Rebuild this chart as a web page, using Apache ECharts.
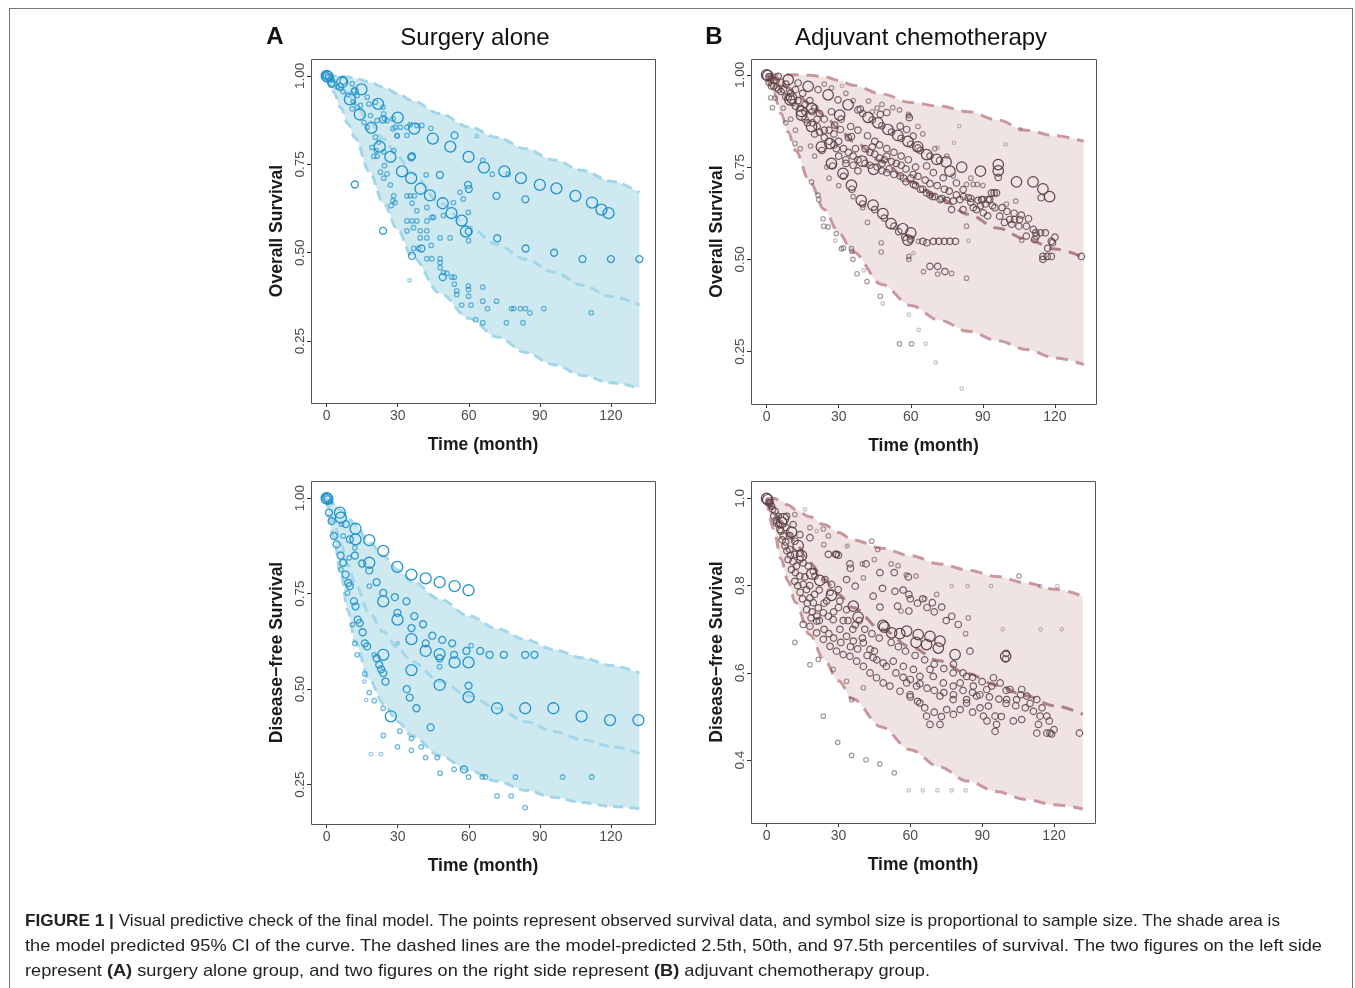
<!DOCTYPE html>
<html><head><meta charset="utf-8">
<script src="https://cdn.jsdelivr.net/npm/echarts@6/dist/echarts.min.js"></script>
<style>
html,body{margin:0;padding:0;background:#fff;}
#wrap{position:relative;width:1355px;height:988px;overflow:hidden;background:#fff;}
#chart{position:absolute;left:0;top:0;width:1355px;height:988px;}
#frame{position:absolute;left:9px;top:8px;width:1344px;height:1010px;border:1px solid #777;box-sizing:border-box;pointer-events:none;}
.cap{position:absolute;left:25px;white-space:nowrap;font-family:"Liberation Sans Narrow","Liberation Sans",Arial,sans-serif;font-size:17px;color:#231f20;transform-origin:0 50%;line-height:20px;}
</style></head>
<body><div id="wrap"><div id="chart"></div><div id="frame"></div>
<div class="cap" data-w="1255" style="top:911px"><b>FIGURE 1 |</b> Visual predictive check of the final model. The points represent observed survival data, and symbol size is proportional to sample size. The shade area is</div>
<div class="cap" data-w="1297" style="top:936px">the model predicted 95% CI of the curve. The dashed lines are the model-predicted 2.5th, 50th, and 97.5th percentiles of survival. The two figures on the left side</div>
<div class="cap" data-w="905" style="top:961px">represent <b>(A)</b> surgery alone group, and two figures on the right side represent <b>(B)</b> adjuvant chemotherapy group.</div>
</div>
<script>
// ---------------- DATA ----------------
const tGrid = [0,3,6,9,12,18,24,30,36,48,60,72,84,96,108,120,132];
const xTicks = [0,30,60,90,120];
const osYTicks = [0.25,0.5,0.75,1.0];
const dfsSurgYTicks = [0.25,0.5,0.75,1.0];
const dfsChemoYTicks = [0.4,0.6,0.8,1.0];

// Overall survival, surgery alone (97.5th / 50th / 2.5th percentiles)
const osSurgUpper  = [1.0,1.0,0.999,0.997,0.993,0.983,0.968,0.95,0.93,0.893,0.856,0.826,0.794,0.762,0.733,0.702,0.67];
const osSurgMedian = [1.0,0.985,0.965,0.945,0.922,0.872,0.822,0.772,0.725,0.64,0.573,0.523,0.481,0.445,0.408,0.376,0.352];
const osSurgLower  = [1.0,0.955,0.91,0.865,0.825,0.73,0.64,0.565,0.49,0.385,0.315,0.262,0.218,0.183,0.153,0.132,0.117];

// Overall survival, adjuvant chemotherapy
const osChemoUpper  = [1.0,1.0,1.0,1.0,1.0,0.999,0.995,0.985,0.972,0.948,0.925,0.915,0.9,0.878,0.85,0.835,0.82];
const osChemoMedian = [1.0,0.99,0.978,0.965,0.95,0.922,0.89,0.855,0.82,0.765,0.71,0.665,0.622,0.585,0.555,0.528,0.505];
const osChemoLower  = [1.0,0.95,0.895,0.845,0.795,0.71,0.635,0.572,0.52,0.432,0.375,0.335,0.305,0.28,0.256,0.233,0.215];

// Disease-free survival, surgery alone
const dfsSurgUpper  = [1.0,0.985,0.968,0.95,0.93,0.885,0.848,0.812,0.782,0.735,0.692,0.658,0.63,0.603,0.582,0.562,0.542];
const dfsSurgMedian = [1.0,0.94,0.88,0.825,0.775,0.7,0.65,0.607,0.572,0.52,0.483,0.45,0.415,0.389,0.368,0.35,0.332];
const dfsSurgLower  = [1.0,0.9,0.8,0.705,0.625,0.525,0.462,0.415,0.378,0.325,0.287,0.259,0.235,0.217,0.203,0.193,0.187];

// Disease-free survival, adjuvant chemotherapy
const dfsChemoUpper  = [1.0,1.0,0.995,0.985,0.975,0.958,0.94,0.922,0.905,0.886,0.869,0.85,0.836,0.821,0.807,0.792,0.776];
const dfsChemoMedian = [1.0,0.975,0.948,0.922,0.897,0.853,0.814,0.78,0.75,0.7,0.66,0.628,0.598,0.572,0.548,0.525,0.505];
const dfsChemoLower  = [1.0,0.93,0.862,0.81,0.762,0.688,0.63,0.582,0.54,0.476,0.424,0.385,0.352,0.328,0.31,0.298,0.288];

// observed points: [time (month), survival, sample-size class 1..4]
const osSurgPts = [
[0,1,4],[0.4,0.998,4],[0,1,3],[0.8,0.996,3],[0.2,0.999,2],
[2.1,0.981,3],[2,0.978,3],[7,0.986,3],[5.6,0.969,3],[6.6,0.983,4],[9.8,0.934,4],[14.7,0.962,4],[11.9,0.957,3],[14,0.891,4],[21.7,0.921,4],[18.9,0.853,4],[30,0.882,4],[22.4,0.80,4],[26.9,0.771,4],[37,0.851,4],[31.8,0.73,4],[35.7,0.711,4],[39.6,0.681,4],[43.6,0.662,4],[49,0.64,4],[52.7,0.612,4],[57,0.591,4],[58.8,0.56,4],[44.8,0.823,4],[52.2,0.80,4],[59.9,0.771,4],[66.4,0.741,4],[75,0.73,4],[82,0.711,4],[90,0.692,4],[97,0.682,4],[105,0.661,4],[112,0.642,4],[116,0.622,4],[119,0.612,4],
[23.8,0.877,3],[29.8,0.83,2],[35.7,0.77,3],[42,0.72,2],[47.8,0.72,3],[59.7,0.692,3],[36.1,0.64,2],[11.9,0.693,3],[23.8,0.562,3],[36,0.773,3],[54,0.832,3],[60,0.68,3],[71.7,0.661,3],[83.9,0.651,3],[72,0.541,3],[84,0.512,3],[96,0.50,3],[108,0.482,3],[120,0.482,3],[132,0.482,3],[36,0.491,3],[40,0.512,3],[49,0.431,3],[60,0.56,3],
[2.4,0.988,2],[4.5,0.969,2],[6.9,0.956,2],[9,0.947,2],[10.8,0.978,2],[11.5,0.959,2],[12.9,0.945,2],[11.2,0.926,2],[10.8,0.907,2],[12.9,0.912,2],[14.3,0.917,2],[17.1,0.94,2],[17.8,0.921,2],[20.6,0.926,2],[23.8,0.912,2],[24.1,0.893,2],[24.4,0.879,2],[21.3,0.874,2],[18.5,0.888,2],[15.7,0.869,2],[17.1,0.855,2],[20.6,0.827,2],[22,0.813,2],[25.5,0.874,2],[28,0.879,2],[29,0.855,2],[31.1,0.855,2],[33.9,0.855,2],[35.3,0.862,2],[38.1,0.86,2],[40.2,0.86,2],[44,0.852,2],[33.9,0.832,2],[29.7,0.832,2],[28,0.851,2],[19.2,0.798,2],[21,0.789,2],[24.1,0.786,2],[28.3,0.789,2],[19.9,0.773,2],[21.3,0.773,2],[24.4,0.746,2],[25.5,0.723,2],[22.7,0.728,2],[24.1,0.711,2],[26.9,0.692,2],[28.3,0.661,2],[28,0.647,2],[29,0.642,2],[27.2,0.633,2],[33.9,0.661,2],[35.3,0.661,2],[37,0.661,2],[38.1,0.619,2],[42.3,0.628,2],[45.1,0.6,2],[49.3,0.605,2],[53.5,0.642,2],[57.7,0.652,2],[33.9,0.59,2],[36,0.59,2],[38.1,0.59,2],[42.3,0.59,2],[44.4,0.6,2],[33.9,0.562,2],[36.7,0.571,2],[39.5,0.562,2],[42.3,0.562,2],[39.5,0.542,2],[42.3,0.542,2],[47.9,0.542,2],[52.1,0.542,2],[36.7,0.512,2],[38.8,0.512,2],[42.3,0.483,2],[44.4,0.483,2],[47.9,0.483,2],[47.9,0.472,2],[47.9,0.458,2],[49.3,0.444,2],[50.7,0.442,2],[52.8,0.431,2],[53.9,0.431,2],[53.9,0.411,2],[54.9,0.392,2],[54.9,0.382,2],[57,0.352,2],[59.8,0.406,2],[59.9,0.396,2],[59.9,0.377,2],[60.9,0.352,2],[65.9,0.403,2],[65.9,0.363,2],[67.9,0.342,2],[71.7,0.363,2],[78,0.342,2],[79,0.342,2],[81.8,0.342,2],[83.9,0.342,2],[85.8,0.33,2],[91.7,0.342,2],[111.7,0.33,2],[65.9,0.302,2],[75.9,0.302,2],[82.9,0.302,2],[62.9,0.311,2],[35,0.422,1],[56.3,0.671,2],[59.8,0.614,2],[59.9,0.534,2],[63.4,0.83,1],[65.9,0.761,2],[69.9,0.722,2],[76.6,0.722,2],[44.1,0.521,2]
];

const osChemoPts = [
[0,1,4],[0.5,0.998,4],[1,0.995,3],[2,0.99,3],[3,0.985,3],
[4.8,0.996,3],[9,0.987,4],[13.1,0.978,3],[17.3,0.969,4],[21.4,0.96,3],[25.6,0.946,4],[29.7,0.932,3],[33.9,0.919,4],[38,0.905,3],[42.2,0.885,4],[46.3,0.87,4],[50.5,0.852,4],[54.6,0.836,4],[58.8,0.82,4],[62.9,0.805,4],[66.6,0.784,4],[70.8,0.771,4],[74.7,0.764,4],[76.3,0.739,4],[81.2,0.75,4],[89,0.739,4],[96.4,0.757,4],[96.4,0.74,4],[96.4,0.722,3],[104,0.71,4],[110.9,0.71,4],[115,0.691,4],[117.8,0.67,4],[114.3,0.667,3],
[40,0.895,3],[44,0.878,3],[48,0.862,3],[52,0.845,3],[56,0.828,3],[60,0.812,3],[64,0.795,3],[68,0.78,3],[72,0.768,3],
[9.7,0.932,4],[10.4,0.937,4],[14.5,0.901,4],[14.5,0.891,4],[18.7,0.86,4],[18.7,0.91,4],[22.8,0.805,4],[23,0.795,3],[26.3,0.814,4],[27,0.76,4],[27.5,0.753,3],[30.4,0.891,4],[31.8,0.733,4],[32,0.725,3],[35.3,0.701,4],[35.5,0.69,3],[39.4,0.66,4],[40,0.65,3],[44.3,0.647,4],[45,0.635,3],[48.4,0.624,4],[49,0.612,3],[51.8,0.597,4],[53,0.59,3],[56.7,0.583,4],[55,0.575,3],[57.5,0.56,3],[58.8,0.552,4],[60,0.572,4],[60,0.555,3],
[28.3,0.864,3],[35.3,0.833,3],[30.7,0.852,3],[34,0.83,3],[37,0.8,3],[39.7,0.766,4],[44.5,0.744,4],[48,0.74,3],[50,0.735,3],[53,0.73,3],[55.6,0.726,3],[58,0.71,3],[61.1,0.703,3],[64,0.69,3],[66.6,0.68,3],[69,0.67,3],[72.2,0.662,3],[75,0.66,3],[77.7,0.658,3],[80.5,0.662,3],[83.9,0.667,3],[86,0.64,3],[89.5,0.662,3],[92.2,0.662,3],[93.6,0.68,3],[95.7,0.68,3],[95,0.64,3],[97,0.617,3],[77,0.635,3],[81.8,0.635,3],[87.3,0.635,3],[90.2,0.626,3],[92,0.618,3],[101.2,0.608,3],[103.2,0.608,3],[105.3,0.608,3],[108.1,0.59,3],[111,0.581,3],[112,0.572,3],[114,0.572,3],[116,0.572,3],[112.3,0.563,3],[108.1,0.563,3],[111.6,0.554,3],[106.2,0.552,2],[118.5,0.549,3],[115,0.508,3],[116.8,0.508,3],[118.5,0.508,3],[115,0.5,3],[131,0.508,3],
[26,0.85,3],[28,0.84,3],[30,0.82,3],[32,0.8,3],[34,0.79,3],[36,0.78,3],[38,0.77,3],[41,0.76,3],[43,0.755,3],[46,0.75,3],[48,0.76,3],[51,0.745,3],[57,0.72,3],[60,0.72,3],[62,0.7,3],[65,0.69,3],[68,0.675,3],[70,0.67,3],[73,0.665,3],[27,0.9,3],[31,0.88,3],[35,0.86,3],[38,0.85,3],[42,0.835,3],[45,0.82,3],[47,0.81,3],[50,0.8,3],[53,0.79,3],[56,0.78,3],[59,0.77,3],[62,0.75,3],[20,0.91,3],[22,0.895,3],[24,0.88,3],[18,0.93,3],[15,0.95,3],[12,0.96,3],[8,0.975,3],[6,0.98,3],[10,0.95,3],[13,0.93,3],[16,0.92,3],[19,0.9,3],[21,0.88,3],[24,0.85,3],[20,0.84,3],[17,0.87,3],[8,0.94,3],[5,0.96,3],[3,0.97,3],[4,0.985,3],
[41,0.8,3],[43,0.79,3],[45,0.785,3],[47,0.775,3],[49,0.77,3],[52,0.765,3],[54,0.76,3],[56,0.755,3],[58,0.745,3],[44,0.805,3],[50,0.78,3],[61,0.73,3],[63,0.725,3],[66,0.715,3],[68,0.705,3],[71,0.7,3],[74,0.69,3],[76,0.685,3],[79,0.675,3],[82,0.67,3],[85,0.665,3],[88,0.66,3],[91,0.65,3],[94,0.645,3],[98,0.64,3],[100,0.63,3],[103,0.625,3],[106,0.62,3],[109,0.61,3],[85,0.655,3],[89,0.645,3],[99,0.6,3],[102,0.595,3],[105,0.59,3],[120,0.56,3],[119,0.545,3],[117,0.53,3],
[1,0.98,3],[2,0.97,3],[4,0.965,3],[6,0.955,3],[7,0.96,3],[9,0.94,3],[11,0.925,3],[12,0.915,3],[14,0.91,3],[16,0.9,3],[16,0.88,3],[19,0.87,3],[21,0.86,3],[22,0.845,3],[24,0.83,3],[26,0.82,3],[28,0.81,3],[29,0.8,3],[30,0.78,3],[33,0.77,3],[36,0.755,3],[38,0.74,3],[33,0.76,3],
[44,0.9,2],[46,0.91,2],[36,0.93,2],[33,0.95,2],[24,0.975,2],[27,0.965,2],[48,0.92,2],[63,0.86,2],[65,0.84,2],[70,0.8,2],[75,0.78,2],[85,0.72,2],[90,0.7,2],
[39,0.907,3],[42.4,0.929,2],[47.3,0.893,3],[50,0.898,3],[52.5,0.911,2],[55.3,0.905,2],[59,0.893,2],[59.4,0.884,3],[59.3,0.889,2],[55.6,0.861,3],[58.3,0.852,3],[61,0.834,3],[63,0.802,3],[66.6,0.753,3],[69.4,0.735,3],[73.5,0.721,3],[77.7,0.726,2],[79,0.707,3],[81.8,0.689,3],[83.2,0.703,2],[86,0.703,2],[87.7,0.703,2],[90.1,0.662,3],[92.9,0.662,3],[94.7,0.68,3],[103.7,0.658,2],[99.8,0.65,2],
[31.4,0.97,1],[80.2,0.861,1],[78,0.816,1],[99.5,0.812,1],[105.6,0.852,1],[71.2,0.803,1],
[1.7,0.938,2],[2.4,0.911,2],[6.9,0.91,2],[3.5,0.937,2],[10,0.88,2],[11.8,0.814,2],[18.3,0.807,2],[18.7,0.71,2],[21.4,0.674,2],[21.7,0.662,2],[23.5,0.61,2],[23.8,0.59,2],[25.6,0.588,2],[29,0.57,2],[28.6,0.551,1],[31.1,0.529,2],[35.3,0.529,2],[32,0.531,2],[35.5,0.522,2],[35.9,0.5,2],[37.6,0.461,2],[40.4,0.47,1],[41.8,0.44,2],[47.3,0.4,2],[48.4,0.38,1],[59.2,0.35,1],[63.3,0.309,1],[55.3,0.271,2],[60.3,0.271,2],[66.2,0.271,1],[70.4,0.22,1],[81.2,0.15,1],[47.7,0.52,2],[47.7,0.545,2],[59.2,0.508,2],[59.2,0.5,2],[61.1,0.517,1],[65.3,0.467,2],[68,0.481,3],[71.2,0.481,3],[74.2,0.467,3],[71.2,0.46,2],[77,0.462,2],[83.2,0.449,2],[63.2,0.549,2],[65,0.549,3],[66.7,0.545,3],[69.4,0.549,3],[71.7,0.549,3],[74,0.549,3],[76.3,0.549,3],[78.6,0.549,3],[59.7,0.549,2],[83.2,0.59,2],[84,0.55,1],[40,0.64,2],[42,0.6,2],[36,0.67,2],[30,0.7,2],[26,0.72,2],[25,0.75,2],[20,0.78,2],[14,0.8,2],[12,0.85,2],[8,0.87,2]
];

const dfsSurgPts = [
[0,1,4],[0.3,0.998,4],[0,1,3],[0.5,0.997,3],
[1.7,0.991,2],[1,0.962,3],[2.1,0.94,3],[3.1,0.901,3],[4.2,0.879,3],[5.6,0.962,4],[6,0.949,4],[6.3,0.932,2],[8.1,0.932,3],[7,0.901,2],[5.9,0.85,3],[7,0.831,3],[6,0.813,2],[8,0.80,3],[9.1,0.778,3],[9.8,0.77,3],[8.8,0.752,2],[9.5,0.844,2],[12.2,0.92,4],[12.2,0.892,4],[9.8,0.892,3],[11.9,0.85,3],[11.9,0.87,2],[11.5,0.73,3],[12.2,0.717,3],[10.9,0.669,2],[13.1,0.682,3],[14,0.673,3],[15.2,0.649,3],[11.9,0.62,2],[16.1,0.62,3],[17.1,0.612,3],[12.9,0.59,2],[15,0.829,3],[18,0.89,4],[18,0.831,4],[18,0.811,3],[18,0.77,2],[21.1,0.78,3],[20.1,0.59,2],[21.1,0.581,3],[22.2,0.564,3],[23,0.552,3],[23.9,0.542,3],[24.8,0.52,3],[23.9,0.59,4],[23.9,0.862,4],[23.9,0.752,3],[23.9,0.73,4],[16.1,0.54,2],[18,0.491,2],[20.1,0.47,2],[23.9,0.45,2],[27.1,0.429,4],[23.9,0.379,2],[30.9,0.39,2],[29.9,0.349,2],[35.8,0.371,2],[35.8,0.34,2],[39.9,0.349,2],[41.8,0.321,2],[46.7,0.321,2],[18.7,0.33,1],[22.9,0.33,1],[15.9,0.52,1],[16.7,0.472,1],[28.8,0.741,3],[29.9,0.70,3],[29.9,0.682,4],[29.9,0.62,1],[33.7,0.73,3],[35.8,0.66,3],[37,0.691,3],[35.8,0.631,4],[35.8,0.55,4],[40.7,0.67,3],[41.8,0.62,3],[41.8,0.60,4],[44.6,0.64,3],[47.7,0.592,4],[47.7,0.581,3],[48.8,0.629,3],[53,0.62,3],[53.8,0.59,3],[54,0.57,4],[59,0.60,3],[59.9,0.57,4],[61,0.614,2],[64.8,0.60,3],[68.8,0.59,3],[74.8,0.59,3],[83.8,0.59,3],[87.7,0.59,3],[33.8,0.50,3],[35.1,0.478,3],[37.9,0.45,3],[43.9,0.40,3],[47.7,0.511,4],[59.9,0.509,3],[59.9,0.479,4],[71.9,0.45,4],[83.8,0.45,4],[95.7,0.45,4],[107.6,0.429,4],[119.6,0.419,4],[131.6,0.419,4],[29.8,0.82,4],[35.8,0.80,4],[41.8,0.79,4],[47.7,0.78,4],[54,0.77,4],[59.9,0.759,4],[47.7,0.559,2],[53.8,0.29,2],[58,0.29,3],[59.9,0.27,2],[65.7,0.27,2],[67,0.27,2],[47.9,0.28,2],[71.9,0.22,2],[77.9,0.22,2],[79.7,0.27,2],[83.8,0.19,2],[99.6,0.27,2],[111.9,0.27,2]
];

const dfsChemoPts = [
[0,1,4],[0.5,0.997,4],[1.5,0.99,3],[7,0.953,4],[6.3,0.945,4],[10.4,0.923,4],[9.7,0.915,3],[13.2,0.892,4],[14.6,0.869,4],[13.9,0.875,3],[18.8,0.827,4],[19.5,0.833,3],[22.2,0.812,4],[27.1,0.778,4],[26.5,0.785,3],[36.2,0.753,4],[38.2,0.728,4],[38.7,0.72,3],[48.6,0.709,4],[49.2,0.705,4],[52.2,0.692,4],[55.6,0.69,4],[58.5,0.696,4],[62.4,0.67,4],[63.3,0.688,4],[66.8,0.665,4],[68.2,0.684,4],[71.7,0.657,4],[72.4,0.673,4],[78.7,0.642,4],[99.8,0.638,4],[99.8,0.632,3],[100,0.645,3],
[2.1,0.982,3],[3.5,0.971,3],[4.9,0.959,3],[4.2,0.944,3],[5.6,0.929,3],[7,0.914,3],[7.7,0.891,3],[9,0.86,3],[10.4,0.837,3],[11.8,0.81,3],[9.7,0.883,3],[11.8,0.872,3],[12.5,0.845,3],[13.9,0.822,3],[15.3,0.803,3],[16.7,0.791,3],[18.1,0.772,3],[19.5,0.761,3],[21.6,0.749,3],[23.7,0.738,3],[25.8,0.73,3],[16.7,0.745,3],[18.6,0.726,3],[20.9,0.719,3],[15.3,0.852,3],[17.4,0.845,3],[20.2,0.822,3],[24.4,0.814,3],[27.1,0.803,3],[29.9,0.791,3],[30.6,0.765,3],[33.4,0.745,3],[25.1,0.765,3],[13.9,0.86,3],[11.8,0.902,3],[11.1,0.94,3],[18.1,0.933,2],[23.7,0.93,2],[25.8,0.914,2],[29.2,0.872,3],[13.9,0.917,3],[8.4,0.959,3],[11.8,0.963,2],[8.1,0.933,3],[18.1,0.91,3],[25.8,0.872,3],[28.8,0.872,3],[34.8,0.85,3],[41.5,0.85,3],[47.3,0.83,3],[53.3,0.83,3],[59.2,0.82,3],[33.4,0.814,3],[37,0.799,3],[48.4,0.794,3],[53.6,0.787,3],[59.4,0.78,3],[65.2,0.77,3],[69.2,0.761,3],[73.1,0.751,3],[47.3,0.751,3],[54.7,0.753,3],[59.4,0.742,3],[77.3,0.73,3],[80,0.711,3],[83.1,0.69,2],[84.9,0.65,3],[44.5,0.776,3],
[15.3,0.711,3],[18.1,0.707,3],[20.9,0.692,3],[23.7,0.677,3],[26.5,0.661,3],[29.2,0.65,3],[32,0.642,3],[34.8,0.638,3],[37.6,0.627,3],[40.4,0.615,3],[43.2,0.60,3],[45.9,0.589,3],[48.7,0.577,3],[51.5,0.57,3],[55.7,0.558,3],[59.9,0.55,3],[64,0.531,3],[66.8,0.501,3],[68.2,0.482,3],[72.4,0.482,3],[75.2,0.516,3],[80.8,0.516,3],[83.5,0.531,3],[89.1,0.52,3],[90.5,0.501,3],[95.4,0.501,3],[96,0.482,3],[95.4,0.466,3],[100.2,0.539,3],[106.5,0.562,3],[106.5,0.493,3],[111.4,0.512,3],[113.5,0.482,3],[114.2,0.501,3],[112.8,0.462,3],[117,0.462,3],[118.3,0.462,3],[130.6,0.462,3],[117,0.501,3],
[27.8,0.722,3],[30.6,0.70,3],[33.4,0.684,3],[36.2,0.673,3],[40.4,0.669,3],[43.2,0.654,3],[44.5,0.635,3],[48.7,0.623,3],[52.9,0.627,3],[57.1,0.615,3],[61.3,0.608,3],[64,0.592,3],[68.2,0.608,3],[69.6,0.592,3],[73.8,0.577,3],[77.9,0.60,3],[80.8,0.577,3],[83.5,0.592,3],[86.3,0.57,3],[91.9,0.562,3],[94.7,0.589,3],[97.5,0.577,3],[101.6,0.562,3],[104.4,0.539,3],[108.6,0.547,3],[112.8,0.539,3],[77.9,0.57,3],[58.5,0.577,3],[62.6,0.57,3],[72.4,0.547,3],[77.9,0.539,3],[83.5,0.539,3],[87.7,0.547,3],[92.6,0.524,3],
[1,0.99,3],[2.5,0.975,3],[3,0.96,3],[4,0.95,3],[5,0.94,3],[6,0.925,3],[6.5,0.905,3],[8,0.9,3],[8.5,0.88,3],[10,0.87,3],[11,0.855,3],[12,0.83,3],[13,0.8,3],[14,0.785,3],[15,0.77,3],[17,0.76,3],[19,0.74,3],[21,0.73,3],[22,0.72,3],[24,0.7,3],[26,0.69,3],[28,0.68,3],[31,0.67,3],[35,0.66,3],[38,0.655,3],[42,0.64,3],[46,0.63,3],[50,0.615,3],[54,0.6,3],[57,0.59,3],[60,0.585,3],[64,0.575,3],[67,0.565,3],[70,0.56,3],[74,0.555,3],[78,0.55,3],[82,0.56,3],[86,0.555,3],[89,0.55,3],[93,0.545,3],[97,0.54,3],[100,0.53,3],[104,0.525,3],[108,0.52,3],[110,0.53,3],[115,0.52,3],[118,0.49,3],[120,0.47,3],[119,0.46,3],[60,0.545,3],[63,0.535,3],[66,0.52,3],[70,0.51,3],[73,0.5,3],[78,0.505,3],[86,0.51,3],[92,0.49,3],[98,0.5,3],[103,0.49,3],
[45,0.65,3],[40,0.68,3],[36,0.7,3],[32,0.72,3],[28,0.74,3],[24,0.76,3],[20,0.78,3],[22,0.79,3],[18,0.8,3],[16,0.82,3],[30,0.75,3],[34,0.72,3],[37,0.71,3],[41,0.7,3],[44,0.69,3],[47,0.68,3],[52,0.67,3],[55,0.66,3],[58,0.65,3],[62,0.64,3],[66,0.63,3],[70,0.62,3],[74,0.61,3],[78,0.62,3],[82,0.6,3],[86,0.59,3],[90,0.58,3],[94,0.57,3],[100,0.56,3],[106,0.55,3],
[30,0.87,3],[35,0.84,3],[40,0.85,2],[45,0.86,2],[52,0.85,2],[57,0.79,3],[60,0.77,3],[63,0.76,3],[67,0.75,3],[70,0.74,3],[75,0.72,3],[66,0.77,2],[71,0.78,2],
[16,0.975,1],[20.9,0.925,1],[23.9,0.894,2],[33.4,0.89,1],[43.9,0.902,2],[46.4,0.883,2],[40.4,0.818,2],[56.1,0.742,2],[62.4,0.822,2],[77.3,0.799,1],[83.9,0.799,1],[93.7,0.799,1],[105.4,0.822,2],[114.2,0.799,1],[121.4,0.799,1],[98.6,0.70,1],[114.4,0.70,1],[123.2,0.70,1],[84.2,0.726,2],[11.8,0.67,2],[18.1,0.619,2],[21.6,0.631,2],[23.7,0.501,2],[29.7,0.441,2],[35.5,0.411,2],[41.5,0.401,2],[47.3,0.391,2],[53.3,0.371,2],[59.4,0.331,1],[65.2,0.331,1],[71.3,0.331,1],[77.3,0.331,1],[83.1,0.331,1],[35.5,0.539,2],[33.4,0.581,2],[40.4,0.566,2],[27.8,0.608,2],[34,0.892,1],[54.9,0.846,2],[58.3,0.825,2]
];

// ---------------- CHART ----------------
const FONT = '"Liberation Sans", Arial, Helvetica, sans-serif';
const themes = {
  blue:  {fill:'#cfe9f1', dash:'#a3d6e8', median:'#a3d6e8', pt:'#1f92cb', sizes:{1:3.5,2:4.5,3:7,4:11}, op:{1:0.5,2:0.65,3:0.9,4:1}, bw:1.3, dashType:[10,6]},
  brown: {fill:'#f0e4e2', dash:'#c9989f', median:'#ad8091', pt:'#5d4343', sizes:{1:3.5,2:4.5,3:6.5,4:10.5}, op:{1:0.35,2:0.55,3:0.85,4:1}, bw:1.2, dashType:[12,8]}
};
const panels = [
  {rect:{left:311,top:59,width:344,height:344}, xr:[-6.6,138.6], yr:[0.075,1.048], yTicks:osYTicks, dec:2, yName:'Overall Survival', lower:osSurgLower, median:osSurgMedian, upper:osSurgUpper, pts:osSurgPts, theme:'blue'},
  {rect:{left:751,top:59,width:345,height:345}, xr:[-6.5,137.1], yr:[0.108,1.043], yTicks:osYTicks, dec:2, yName:'Overall Survival', lower:osChemoLower, median:osChemoMedian, upper:osChemoUpper, pts:osChemoPts, theme:'brown'},
  {rect:{left:311,top:481,width:344,height:343}, xr:[-6.6,138.6], yr:[0.147,1.045], yTicks:dfsSurgYTicks, dec:2, yName:'Disease\u2212free Survival', lower:dfsSurgLower, median:dfsSurgMedian, upper:dfsSurgUpper, pts:dfsSurgPts, theme:'blue'},
  {rect:{left:751,top:481,width:344,height:342}, xr:[-6.5,137.1], yr:[0.256,1.04], yTicks:dfsChemoYTicks, dec:1, yName:'Disease\u2212free Survival', lower:dfsChemoLower, median:dfsChemoMedian, upper:dfsChemoUpper, pts:dfsChemoPts, theme:'brown'}
];

const option = {animation:false, backgroundColor:'#fff', grid:[], xAxis:[], yAxis:[], series:[], graphic:[]};
panels.forEach((p,i)=>{
  const th = themes[p.theme];
  option.grid.push(Object.assign({show:false}, p.rect));
  option.xAxis.push({
    gridIndex:i, type:'value', min:p.xr[0], max:p.xr[1],
    splitLine:{show:false}, axisLine:{show:false, onZero:false},
    axisTick:{show:true, length:4, lineStyle:{color:'#333'}, customValues:xTicks},
    axisLabel:{customValues:xTicks, color:'#4d4d4d', fontSize:14, margin:6, fontFamily:FONT},
    name:'Time (month)', nameLocation:'middle', nameGap:33,
    nameTextStyle:{fontWeight:'bold', fontSize:17.5, color:'#1a1a1a', fontFamily:FONT}
  });
  option.yAxis.push({
    gridIndex:i, type:'value', min:p.yr[0], max:p.yr[1],
    splitLine:{show:false}, axisLine:{show:false, onZero:false},
    axisTick:{show:true, length:4, lineStyle:{color:'#333'}, customValues:p.yTicks},
    axisLabel:{customValues:p.yTicks, rotate:90, color:'#4d4d4d', fontSize:13.5, margin:4, fontFamily:FONT,
      formatter:(v)=>Number(v).toFixed(p.dec)},
    name:p.yName, nameLocation:'middle', nameGap:25,
    nameTextStyle:{fontWeight:'bold', fontSize:17.5, color:'#1a1a1a', fontFamily:FONT}
  });
  const dashStyle = {color:th.dash, width:3, type:th.dashType};
  // 2.5th percentile (base of the stacked band); value first so the stack runs on the survival axis
  option.series.push({
    type:'line', xAxisIndex:i, yAxisIndex:i, silent:true, z:3, stack:'band'+i,
    encode:{x:1, y:0},
    smooth:0.35, smoothMonotone:'x', symbol:'none', lineStyle:dashStyle,
    data:tGrid.map((t,k)=>[p.lower[k], t])
  });
  // band up to the 97.5th percentile (shaded 95% CI)
  option.series.push({
    type:'line', xAxisIndex:i, yAxisIndex:i, silent:true, z:2, stack:'band'+i,
    encode:{x:1, y:0},
    smooth:0.35, smoothMonotone:'x', symbol:'none', lineStyle:dashStyle,
    areaStyle:{color:th.fill, opacity:1},
    data:tGrid.map((t,k)=>[p.upper[k]-p.lower[k], t])
  });
  // 50th percentile
  option.series.push({
    type:'line', xAxisIndex:i, yAxisIndex:i, silent:true, z:4,
    smooth:0.35, smoothMonotone:'x', symbol:'none',
    lineStyle:{color:th.median, width:3, type:th.dashType},
    data:tGrid.map((t,k)=>[t,p.median[k]])
  });
  option.series.push({
    type:'scatter', xAxisIndex:i, yAxisIndex:i, silent:true, z:5, symbol:'circle',
    itemStyle:{color:'rgba(0,0,0,0)', borderColor:th.pt, borderWidth:th.bw},
    data:p.pts.map(q=>({value:[q[0],q[1]], symbolSize:th.sizes[q[2]], itemStyle:{opacity:th.op[q[2]]}}))
  });
});

function txt(x,y,text,font){
  return {type:'text', x:x, y:y, silent:true,
    style:{text:text, font:font, fill:'#111', textAlign:'center', textVerticalAlign:'middle', align:'center', verticalAlign:'middle'}};
}
option.graphic = [
  txt(275,37,'A','bold 24px '+FONT),
  txt(714,37,'B','bold 24px '+FONT),
  txt(475,38,'Surgery alone','24px '+FONT),
  txt(921,38,'Adjuvant chemotherapy','24px '+FONT)
];
panels.forEach(p=>{
  option.graphic.push({type:'rect', silent:true, z:100,
    shape:{x:p.rect.left+0.5, y:p.rect.top+0.5, width:p.rect.width, height:p.rect.height},
    style:{fill:null, stroke:'#555', lineWidth:1}});
});

const chart = echarts.init(document.getElementById('chart'), null, {renderer:'canvas'});
chart.setOption(option);

document.querySelectorAll('.cap').forEach(el=>{
  const w = el.getBoundingClientRect().width;
  const target = +el.dataset.w;
  if (w>0) el.style.transform = 'scaleX(' + (target/w) + ')';
});
</script>
</body></html>
